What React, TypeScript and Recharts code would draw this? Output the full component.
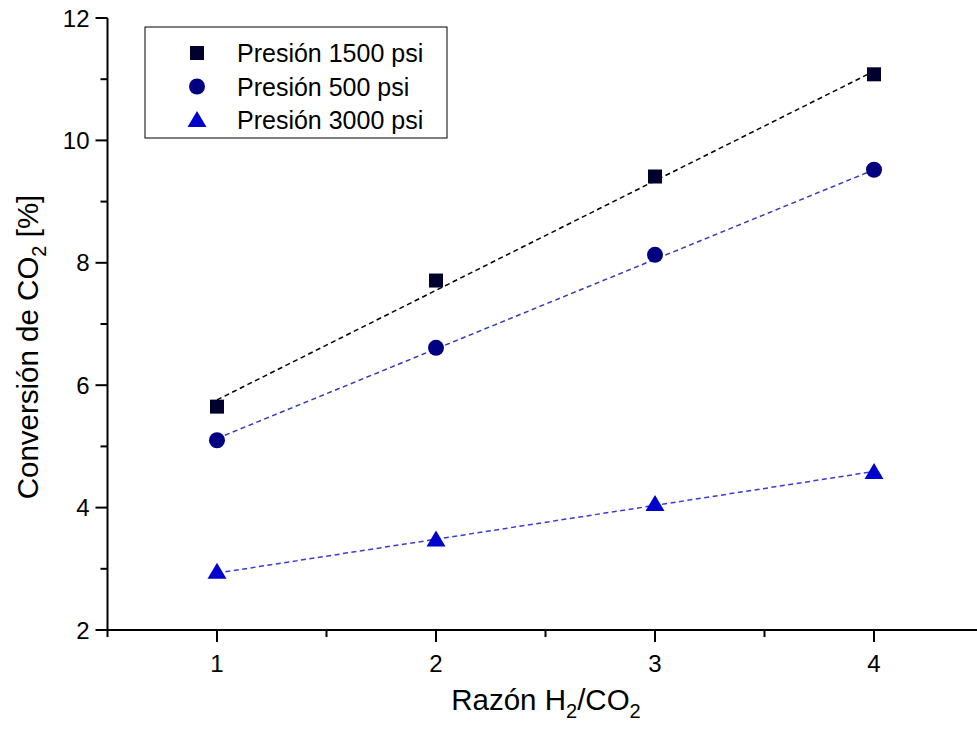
import React from 'react';
import { ComposedChart, Scatter, XAxis, YAxis } from 'recharts';

// measured points, H2/CO2 ratio vs CO2 conversion (%)
const ratios = [1, 2, 3, 4];
const conv1500 = [5.65, 7.71, 9.41, 11.08];
const conv500 = [5.1, 6.61, 8.13, 9.52];
const conv3000 = [2.95, 3.48, 4.06, 4.58];

// linear fit end points (dashed lines)
const fitRatios = [1, 4];
const fit1500 = [5.76, 11.13];
const fit500 = [5.13, 9.52];
const fit3000 = [2.93, 4.59];

const xTicks = [0.5, 1, 1.5, 2, 2.5, 3, 3.5, 4, 4.5];
const yTicks = [2, 3, 4, 5, 6, 7, 8, 9, 10, 11, 12];

const FONT = '"Liberation Sans", Arial, Helvetica, sans-serif';

const toPoints = (xs: number[], ys: number[]) => xs.map((x, i) => ({ x, y: ys[i] }));

const Square = ({ cx, cy, fill }: any) => (
  <rect x={cx - 7} y={cy - 7} width={14} height={14} fill={fill} />
);
const Circle = ({ cx, cy, fill }: any) => <circle cx={cx} cy={cy} r={8} fill={fill} />;
const Triangle = ({ cx, cy, fill }: any) => (
  <polygon points={`${cx},${cy - 9} ${cx + 9.5},${cy + 7} ${cx - 9.5},${cy + 7}`} fill={fill} />
);
const NoDot = () => <g />;

const XTick = ({ x, y, payload }: any) => {
  const major = Number.isInteger(payload.value);
  return (
    <g>
      <line x1={x} y1={y} x2={x} y2={y + (major ? 12 : 7)} stroke="#000" strokeWidth={2} />
      {major && (
        <text x={x} y={y + 42} textAnchor="middle" fontSize={24} fontFamily={FONT} fill="#000">
          {payload.value}
        </text>
      )}
    </g>
  );
};

const YTick = ({ x, y, payload }: any) => {
  const major = payload.value % 2 === 0;
  return (
    <g>
      <line x1={x} y1={y} x2={x - (major ? 12 : 7)} y2={y} stroke="#000" strokeWidth={2} />
      {major && (
        <text x={x - 18} y={y + 8.5} textAnchor="end" fontSize={24} fontFamily={FONT} fill="#000">
          {payload.value}
        </text>
      )}
    </g>
  );
};

const XTitle = () => (
  <text x={546} y={710} textAnchor="middle" fontSize={29.5} fontFamily={FONT} fill="#000">
    Razón H<tspan fontSize={20} dy={8}>2</tspan>
    <tspan dy={-8}>/CO</tspan>
    <tspan fontSize={20} dy={8}>2</tspan>
  </text>
);

const YTitle = () => (
  <text
    transform="rotate(-90)"
    x={-347}
    y={38}
    textAnchor="middle"
    fontSize={29.5}
    fontFamily={FONT}
    fill="#000"
  >
    Conversión de CO<tspan fontSize={20} dy={8}>2</tspan>
    <tspan dy={-8}> [%]</tspan>
  </text>
);

const series = [
  { name: 'Presión 1500 psi', color: '#00002e', shape: Square },
  { name: 'Presión 500 psi', color: '#000080', shape: Circle },
  { name: 'Presión 3000 psi', color: '#0000cc', shape: Triangle },
];

const LegendBox = () => (
  <svg
    width={304}
    height={113}
    style={{ position: 'absolute', left: 144, top: 26, overflow: 'visible' }}
  >
    <rect x={1} y={1} width={302} height={111} fill="#fff" stroke="#000" strokeWidth={1} />
    {series.map((s, i) => {
      const Shape = s.shape;
      const cy = 27 + i * 33.5;
      return (
        <g key={s.name}>
          <Shape cx={53} cy={cy} fill={s.color} />
          <text x={93} y={cy + 9} fontSize={25} fontFamily={FONT} fill="#000">
            {s.name}
          </text>
        </g>
      );
    })}
  </svg>
);

export default function App() {
  return (
    <div
      style={{
        position: 'absolute',
        left: 0,
        top: 0,
        width: 977,
        height: 732,
        overflow: 'hidden',
        background: '#fff',
      }}
    >
      <ComposedChart width={1000} height={732} margin={{ top: 18, right: 16.5, bottom: 0, left: 0 }}>
        <XAxis
          type="number"
          dataKey="x"
          domain={[0.5, 4.5]}
          ticks={xTicks}
          interval={0}
          allowDataOverflow
          height={102}
          tickSize={0}
          tickMargin={0}
          tickLine={false}
          axisLine={{ stroke: '#000', strokeWidth: 2 }}
          tick={<XTick />}
          label={{ content: () => <XTitle /> }}
        />
        <YAxis
          type="number"
          dataKey="y"
          domain={[2, 12]}
          ticks={yTicks}
          interval={0}
          allowDataOverflow
          width={107.5}
          tickSize={0}
          tickMargin={0}
          tickLine={false}
          axisLine={{ stroke: '#000', strokeWidth: 2 }}
          tick={<YTick />}
          label={{ content: () => <YTitle /> }}
        />
        <Scatter
          data={toPoints(fitRatios, fit1500)}
          line={{ stroke: '#000', strokeWidth: 1.5, strokeDasharray: '5 3.5' }}
          shape={<NoDot />}
          isAnimationActive={false}
        />
        <Scatter
          data={toPoints(fitRatios, fit500)}
          line={{ stroke: '#3a3ab8', strokeWidth: 1.5, strokeDasharray: '5 3.5' }}
          shape={<NoDot />}
          isAnimationActive={false}
        />
        <Scatter
          data={toPoints(fitRatios, fit3000)}
          line={{ stroke: '#3a3ad8', strokeWidth: 1.5, strokeDasharray: '5 3.5' }}
          shape={<NoDot />}
          isAnimationActive={false}
        />
        <Scatter data={toPoints(ratios, conv1500)} fill="#00002e" shape={<Square />} isAnimationActive={false} />
        <Scatter data={toPoints(ratios, conv500)} fill="#000080" shape={<Circle />} isAnimationActive={false} />
        <Scatter data={toPoints(ratios, conv3000)} fill="#0000cc" shape={<Triangle />} isAnimationActive={false} />
      </ComposedChart>
      <LegendBox />
    </div>
  );
}
